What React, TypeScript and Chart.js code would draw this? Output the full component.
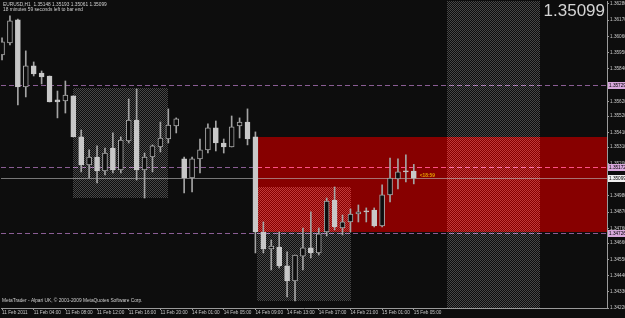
import React, { useEffect, useRef } from "react";
import { Chart, registerables } from "chart.js";

Chart.register(...registerables);

// ---- data (EURUSD H1) ----
const xTickIndex = [0, 4, 8, 12, 16, 20, 24, 28, 32, 36, 40, 44, 48, 52];
const xTickLabels = [
  "11 Feb 2011", "11 Feb 04:00", "11 Feb 08:00", "11 Feb 12:00", "11 Feb 16:00",
  "11 Feb 20:00", "14 Feb 01:00", "14 Feb 05:00", "14 Feb 09:00", "14 Feb 13:00",
  "14 Feb 17:00", "14 Feb 21:00", "15 Feb 01:00", "15 Feb 05:00",
];
const yTickLabels = [
  "1.36280", "1.36170", "1.36060", "1.35950", "1.35840", "1.35730", "1.35620",
  "1.35520", "1.35410", "1.35310", "1.35200", "1.35090", "1.34980", "1.34870",
  "1.34760", "1.34660", "1.34550", "1.34440", "1.34330", "1.34220",
];

const opens = [
  1.35934, 1.36016, 1.36172, 1.35718, 1.35860, 1.35812, 1.35792, 1.35630, 1.35623, 1.35657,
  1.35379, 1.35189, 1.35243, 1.35148, 1.35304, 1.35155, 1.35352, 1.35494, 1.35155, 1.35243,
  1.35311, 1.35365, 1.35453, 1.35230, 1.35101, 1.35230, 1.35291, 1.35440, 1.35338, 1.35311,
  1.35453, 1.35480, 1.35379, 1.34735, 1.34620, 1.34633, 1.34505, 1.34403, 1.34572, 1.34627,
  1.34593, 1.34735, 1.34952, 1.34762, 1.34803, 1.34857, 1.34877, 1.34884, 1.34776, 1.34986,
  1.35094, 1.35148, 1.35148,
];
const highs = [
  1.36050, 1.36199, 1.36178, 1.35962, 1.35887, 1.35826, 1.35792, 1.35690, 1.35758, 1.35657,
  1.35426, 1.35291, 1.35318, 1.35304, 1.35406, 1.35379, 1.35636, 1.35704, 1.35270, 1.35325,
  1.35480, 1.35569, 1.35508, 1.35243, 1.35243, 1.35365, 1.35467, 1.35487, 1.35365, 1.35521,
  1.35508, 1.35569, 1.35413, 1.34803, 1.34681, 1.34735, 1.34600, 1.34579, 1.34762, 1.34871,
  1.34762, 1.34965, 1.35040, 1.34850, 1.34891, 1.34918, 1.34898, 1.34898, 1.35054, 1.35236,
  1.35230, 1.35257, 1.35193,
];
const lows = [
  1.35901, 1.36002, 1.35596, 1.35650, 1.35792, 1.35738, 1.35616, 1.35508, 1.35541, 1.35379,
  1.35142, 1.35101, 1.35067, 1.35121, 1.35135, 1.35135, 1.35338, 1.35087, 1.34965, 1.35142,
  1.35277, 1.35338, 1.35406, 1.34999, 1.35006, 1.35135, 1.35270, 1.35284, 1.35270, 1.35311,
  1.35372, 1.35325, 1.34593, 1.34593, 1.34478, 1.34491, 1.34295, 1.34268, 1.34478, 1.34559,
  1.34579, 1.34708, 1.34749, 1.34715, 1.34735, 1.34803, 1.34803, 1.34769, 1.34769, 1.34938,
  1.35026, 1.35074, 1.35061,
];
const closes = [
  1.36023, 1.36165, 1.35718, 1.35860, 1.35806, 1.35785, 1.35616, 1.35616, 1.35663, 1.35379,
  1.35189, 1.35243, 1.35148, 1.35270, 1.35155, 1.35358, 1.35494, 1.35155, 1.35243, 1.35318,
  1.35372, 1.35460, 1.35501, 1.35101, 1.35230, 1.35291, 1.35440, 1.35338, 1.35311, 1.35447,
  1.35480, 1.35365, 1.34735, 1.34620, 1.34640, 1.34505, 1.34403, 1.34579, 1.34627, 1.34593,
  1.34722, 1.34945, 1.34769, 1.34803, 1.34857, 1.34871, 1.34871, 1.34776, 1.34986, 1.35101,
  1.35142, 1.35142, 1.35099,
];

// rectangles: [startIndex, endIndex, topPrice, bottomPrice]
const greyBoxA = [9, 21, 1.35711, 1.34965];
const greyBoxB = [32.2, 44.1, 1.35040, 1.34268];
const redBox = [32, 80, 1.35379, 1.34735];
const futureBand = [56.2, 68];
// horizontal levels
const dashedLevels = [1.35729, 1.35172, 1.34726];
const bidPrice = 1.35099;

const BG = "#0d0d0d";
const FONT = "'Liberation Sans', Arial, sans-serif";

export default function App() {
  const ref = useRef<HTMLCanvasElement | null>(null);

  useEffect(() => {
    document.body.style.margin = "0";
    document.body.style.background = BG;
    const canvas = ref.current!;
    const pc = document.createElement("canvas");
    pc.width = 2;
    pc.height = 2;
    const pctx = pc.getContext("2d")!;
    pctx.fillStyle = "rgb(58,58,58)";
    pctx.fillRect(0, 0, 1, 1);
    pctx.fillRect(1, 1, 1, 1);

    const plugin = {
      id: "mt4",
      beforeDraw(chart: any) {
        const ctx = chart.ctx;
        ctx.save();
        ctx.fillStyle = BG;
        ctx.fillRect(0, 0, chart.width, chart.height);
        ctx.restore();
      },
      beforeDatasetsDraw(chart: any) {
        const ctx = chart.ctx;
        const a = chart.chartArea;
        const xs = chart.scales.x;
        const ys = chart.scales.y;
        const X = (v: number) => Math.round(xs.getPixelForValue(v));
        const Y = (v: number) => Math.round(ys.getPixelForValue(v));
        ctx.save();
        ctx.beginPath();
        ctx.rect(a.left, a.top, a.right - a.left, a.bottom - a.top);
        ctx.clip();
        // red box
        ctx.fillStyle = "#870000";
        ctx.fillRect(X(redBox[0]), Y(redBox[2]), X(redBox[1]) - X(redBox[0]), Y(redBox[3]) - Y(redBox[2]));
        // grey dotted boxes (additive)
        const pat = ctx.createPattern(pc, "repeat");
        ctx.globalCompositeOperation = "lighter";
        ctx.fillStyle = pat;
        ctx.fillRect(X(greyBoxA[0]), Y(greyBoxA[2]), X(greyBoxA[1]) - X(greyBoxA[0]), Y(greyBoxA[3]) - Y(greyBoxA[2]));
        ctx.fillRect(X(greyBoxB[0]), Y(greyBoxB[2]), X(greyBoxB[1]) - X(greyBoxB[0]), Y(greyBoxB[3]) - Y(greyBoxB[2]));
        ctx.fillRect(X(futureBand[0]), a.top, X(futureBand[1]) - X(futureBand[0]), a.bottom - a.top);
        // dashed levels (additive, purple on black / pink on red)
        ctx.strokeStyle = "rgb(125,80,135)";
        ctx.lineWidth = 1;
        ctx.setLineDash([5, 3]);
        dashedLevels.forEach((p) => {
          const y = Y(p) + 0.5;
          ctx.beginPath();
          ctx.moveTo(a.left, y);
          ctx.lineTo(a.right, y);
          ctx.stroke();
        });
        ctx.setLineDash([]);
        ctx.globalCompositeOperation = "source-over";
        // bid line
        ctx.strokeStyle = "rgba(190,190,190,0.6)";
        const yb = Y(bidPrice) + 0.5;
        ctx.beginPath();
        ctx.moveTo(a.left, yb);
        ctx.lineTo(a.right, yb);
        ctx.stroke();
        ctx.restore();
      },
      afterDraw(chart: any) {
        const ctx = chart.ctx;
        const a = chart.chartArea;
        const xs = chart.scales.x;
        const ys = chart.scales.y;
        ctx.save();
        // right-axis price markers
        const marker = (p: number, bg: string) => {
          const y = Math.round(ys.getPixelForValue(p));
          ctx.fillStyle = bg;
          ctx.fillRect(a.right + 1, y - 3, chart.width - a.right - 1, 7);
          ctx.fillStyle = "#000";
          ctx.font = `4.7px ${FONT}`;
          ctx.textBaseline = "middle";
          ctx.textAlign = "left";
          ctx.fillText(p.toFixed(5), a.right + 2, y + 0.5);
        };
        dashedLevels.forEach((p) => marker(p, "#d8a8dc"));
        marker(bidPrice, "#f0f0f0");
        // texts
        ctx.fillStyle = "#cfcfcf";
        ctx.textAlign = "left";
        ctx.textBaseline = "middle";
        ctx.font = `4.8px ${FONT}`;
        const n = closes.length - 1;
        ctx.fillText(
          `EURUSD,H1  ${opens[n].toFixed(5)} ${highs[n].toFixed(5)} ${lows[n].toFixed(5)} ${closes[n].toFixed(5)}`,
          3, 5
        );
        ctx.fillText("18 minutes 59 seconds left to bar end", 3, 10);
        ctx.fillText("MetaTrader - Alpari UK, \u00a9 2001-2009 MetaQuotes Software Corp.", 2, 300.5);
        ctx.textAlign = "right";
        ctx.textBaseline = "top";
        ctx.font = `17px ${FONT}`;
        ctx.fillStyle = "#d4d4d4";
        ctx.fillText(closes[n].toFixed(5), a.right - 2, 3);
        // countdown
        ctx.textAlign = "left";
        ctx.textBaseline = "middle";
        ctx.font = `bold 4.8px ${FONT}`;
        ctx.fillStyle = "#e8a400";
        ctx.fillText("<18:59", xs.getPixelForValue(n) + 6, ys.getPixelForValue(closes[n]) - 3);
        ctx.restore();
      },
    };

    const bodies = opens.map((o, i) => ({ x: i, y: [o, closes[i]] }));
    const wicks = lows.map((l, i) => ({ x: i, y: [l, highs[i]] }));
    const bull = opens.map((o, i) => closes[i] > o);

    const tickFont = { family: FONT, size: 4.7 };
    const chart = new Chart(canvas, {
      type: "bar",
      data: {
        datasets: [
          {
            data: bodies as any,
            backgroundColor: bull.map((b) => (b ? BG : "#c8c8c8")),
            borderColor: bull.map((b) => (b ? "#a8a8a8" : "#c8c8c8")),
            borderWidth: 1,
            borderSkipped: false,
            barThickness: 5,
            minBarLength: 1,
            grouped: false,
            order: 0,
          } as any,
          {
            data: wicks as any,
            backgroundColor: "#a4a4a4",
            borderWidth: 0,
            barThickness: 1,
            grouped: false,
            order: 1,
          } as any,
        ],
      },
      options: {
        animation: false,
        responsive: false,
        maintainAspectRatio: false,
        layout: { padding: { left: 1, top: 1, right: 0, bottom: 0 } },
        plugins: { legend: { display: false }, tooltip: { enabled: false } },
        scales: {
          x: {
            type: "linear",
            offset: false,
            min: -0.13,
            max: 76.4,
            afterBuildTicks: (s: any) => {
              s.ticks = xTickIndex.map((v) => ({ value: v }));
            },
            afterFit: (s: any) => {
              s.height = 10;
              s.paddingLeft = 0;
              s.paddingRight = 0;
            },
            grid: { display: true, offset: false, drawOnChartArea: false, drawTicks: true, tickLength: 2, color: "#9a9a9a" },
            border: { display: true, color: "#9a9a9a" },
            ticks: {
              autoSkip: false,
              maxRotation: 0,
              minRotation: 0,
              align: "start",
              padding: 0,
              color: "#c8c8c8",
              font: tickFont,
              callback: (v: any) => {
                const k = xTickIndex.indexOf(Number(v));
                return k >= 0 ? xTickLabels[k] : "";
              },
            },
          } as any,
          y: {
            type: "linear",
            position: "right",
            min: 1.3422,
            max: 1.363,
            afterBuildTicks: (s: any) => {
              s.ticks = yTickLabels.map((t) => ({ value: parseFloat(t) }));
            },
            afterFit: (s: any) => {
              s.width = 18;
              s.paddingTop = 0;
              s.paddingBottom = 0;
            },
            grid: { display: true, drawOnChartArea: false, drawTicks: true, tickLength: 2, color: "#9a9a9a" },
            border: { display: true, color: "#9a9a9a" },
            ticks: {
              autoSkip: false,
              padding: 1,
              color: "#c8c8c8",
              font: tickFont,
              callback: (v: any) => {
                const k = yTickLabels.findIndex((t) => Math.abs(parseFloat(t) - Number(v)) < 1e-7);
                return k >= 0 ? yTickLabels[k] : "";
              },
            },
          } as any,
        },
      },
      plugins: [plugin],
    });
    return () => chart.destroy();
  }, []);

  return (
    <div style={{ position: "fixed", left: 0, top: 0, width: 625, height: 318, background: BG }}>
      <canvas ref={ref} width={625} height={318} style={{ display: "block", width: 625, height: 318 }} />
    </div>
  );
}
